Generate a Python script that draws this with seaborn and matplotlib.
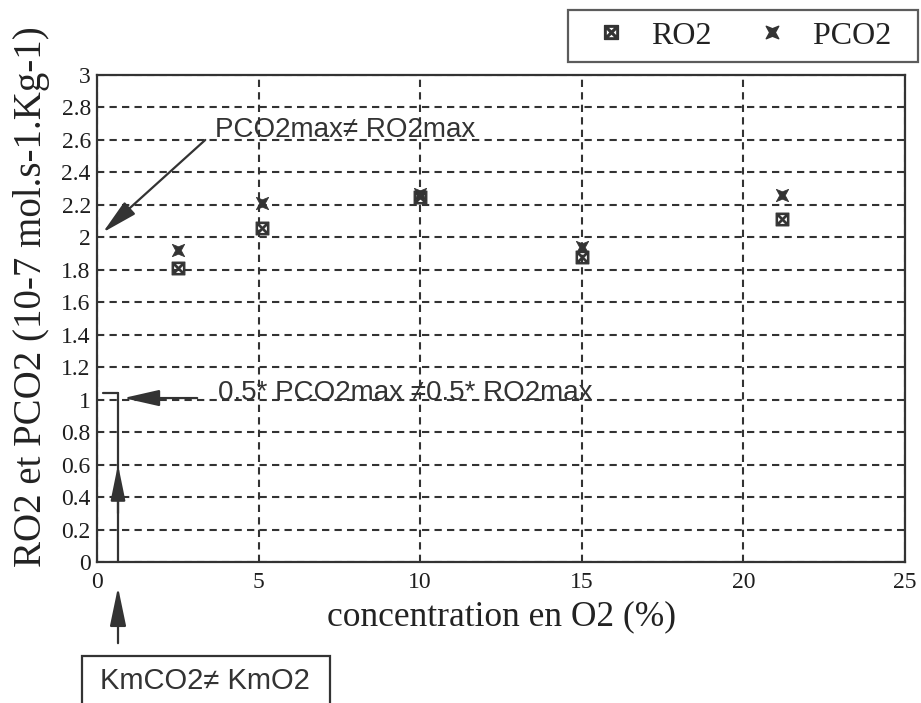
import numpy as np
import pandas as pd
import matplotlib
matplotlib.use("Agg")
import matplotlib.pyplot as plt
from matplotlib.path import Path
from matplotlib.patches import Rectangle
from matplotlib.lines import Line2D
import seaborn as sns

# ---- data ----
conc_o2 = [2.5, 5.1, 10.0, 15.0, 21.2]
ro2 = [1.81, 2.06, 2.25, 1.88, 2.11]
pco2 = [1.92, 2.21, 2.27, 1.94, 2.26]
series_names = ["RO2", "PCO2"]
x_ticks = [0, 5, 10, 15, 20, 25]
y_ticks = [0, 0.2, 0.4, 0.6, 0.8, 1, 1.2, 1.4, 1.6, 1.8, 2, 2.2, 2.4, 2.6, 2.8, 3]
y_tick_labels = ["0", "0.2", "0.4", "0.6", "0.8", "1", "1.2", "1.4", "1.6", "1.8",
                 "2", "2.2", "2.4", "2.6", "2.8", "3"]

df = pd.DataFrame({
    "conc": conc_o2 * 2,
    "val": ro2 + pco2,
    "serie": [series_names[0]] * len(ro2) + [series_names[1]] * len(pco2),
})

sns.set_style("white")
plt.rcParams["font.family"] = ["Liberation Serif", "DejaVu Serif"]

INK = "#333333"

fig = plt.figure(figsize=(9.21, 7.03), dpi=100)
ax = fig.add_axes([97 / 921, 1 - 562 / 703, (905 - 97) / 921, (562 - 75) / 703])

# markers
hourglass = Path([(-1, 1), (0, 0.6), (1, 1), (0.45, 0), (1, -1), (0, -0.6), (-1, -1), (-0.45, 0), (-1, 1)],
                 [Path.MOVETO] + [Path.LINETO] * 7 + [Path.CLOSEPOLY])
sq_marker = "$\u22a0$"

sns.scatterplot(data=df[df.serie == "RO2"], x="conc", y="val", marker=sq_marker, s=85,
                color=INK, edgecolor=INK, linewidth=0.8, ax=ax, legend=False, zorder=5)
sns.scatterplot(data=df[df.serie == "PCO2"], x="conc", y="val", marker=hourglass, s=80,
                color=INK, edgecolor=INK, linewidth=0.5, ax=ax, legend=False, zorder=5)

ax.set_xlim(0, 25)
ax.set_ylim(0, 3)
ax.set_xticks(x_ticks)
ax.set_xticklabels([str(t) for t in x_ticks])
ax.set_yticks(y_ticks)
ax.set_yticklabels(y_tick_labels)
ax.tick_params(axis="both", direction="inout", length=9, width=1.4, color=INK,
               labelsize=17, labelcolor="#1e1e1e", pad=3)
ax.tick_params(axis="y", pad=0)
for s in ax.spines.values():
    s.set_color(INK)
    s.set_linewidth(1.6)
ax.grid(True, color=INK, linestyle=(0, (3.5, 2.5)), linewidth=1.5)
ax.set_axisbelow(True)

ax.set_xlabel("concentration en O2 (%)", fontsize=25.5, color="#222222", labelpad=5)
ax.set_ylabel("RO2 et PCO2 (10-7 mol.s-1.Kg-1)", fontsize=28, color="#222222")
ax.yaxis.set_label_coords(-0.058, 0.545)

# annotations
sans = ["Liberation Sans", "DejaVu Sans"]
big_head = "-|>,head_length=2.2,head_width=0.5"
ax.text(3.65, 2.66, "PCO2max≠ RO2max", fontsize=20, family=sans, color=INK, va="center", ha="left")
ax.annotate("", xy=(0.18, 2.03), xytext=(3.35, 2.6),
            arrowprops=dict(arrowstyle=big_head, color=INK, lw=1.6, shrinkA=0, shrinkB=0))

ax.text(3.75, 1.04, "0.5* PCO2max ≠0.5* RO2max", fontsize=20, family=sans, color=INK,
        va="center", ha="left")
ax.annotate("", xy=(0.82, 1.01), xytext=(3.1, 1.01),
            arrowprops=dict(arrowstyle=big_head, color=INK, lw=1.6, shrinkA=0, shrinkB=0))
ax.plot([0.18, 0.65], [1.04, 1.04], color=INK, lw=1.6, clip_on=False)
ax.plot([0.65, 0.65], [0, 1.04], color=INK, lw=1.6, clip_on=False)
ax.annotate("", xy=(0.65, 0.6), xytext=(0.65, 0.3),
            arrowprops=dict(arrowstyle="-|>,head_length=2.2,head_width=0.45", color=INK, lw=1.6,
                            shrinkA=0, shrinkB=0))

# bottom arrow + box
ax.annotate("", xy=(0.65, -0.155), xytext=(0.65, -0.5), annotation_clip=False,
            arrowprops=dict(arrowstyle="-|>,head_length=2.4,head_width=0.5", color=INK, lw=1.6,
                            shrinkA=0, shrinkB=0))
fig.add_artist(Rectangle((82 / 921, -0.05), (330 - 82) / 921, (0.05 + 1 - 656 / 703),
                         transform=fig.transFigure, fill=False, edgecolor=INK, lw=1.6))
fig.text(205 / 921, 1 - 681 / 703, "KmCO2≠ KmO2", fontsize=21, family=sans, color=INK,
         ha="center", va="center")

# legend
handles = [
    Line2D([], [], linestyle="none", marker=sq_marker, markersize=10, color=INK),
    Line2D([], [], linestyle="none", marker=hourglass, markersize=9, color=INK),
]
labels = [series_names[0], series_names[1] + "\u2002"]
leg = fig.legend(handles, labels, loc="upper right", bbox_to_anchor=(918 / 921, 1 - 10 / 703),
                 borderaxespad=0, ncol=2, fontsize=23, frameon=True, fancybox=False, edgecolor=INK,
                 handletextpad=0.3, columnspacing=0.9, borderpad=0.35, handlelength=1.95)
leg.get_frame().set_linewidth(1.6)
for t in leg.get_texts():
    t.set_color("#222222")

fig.savefig("out.png", dpi=100)
